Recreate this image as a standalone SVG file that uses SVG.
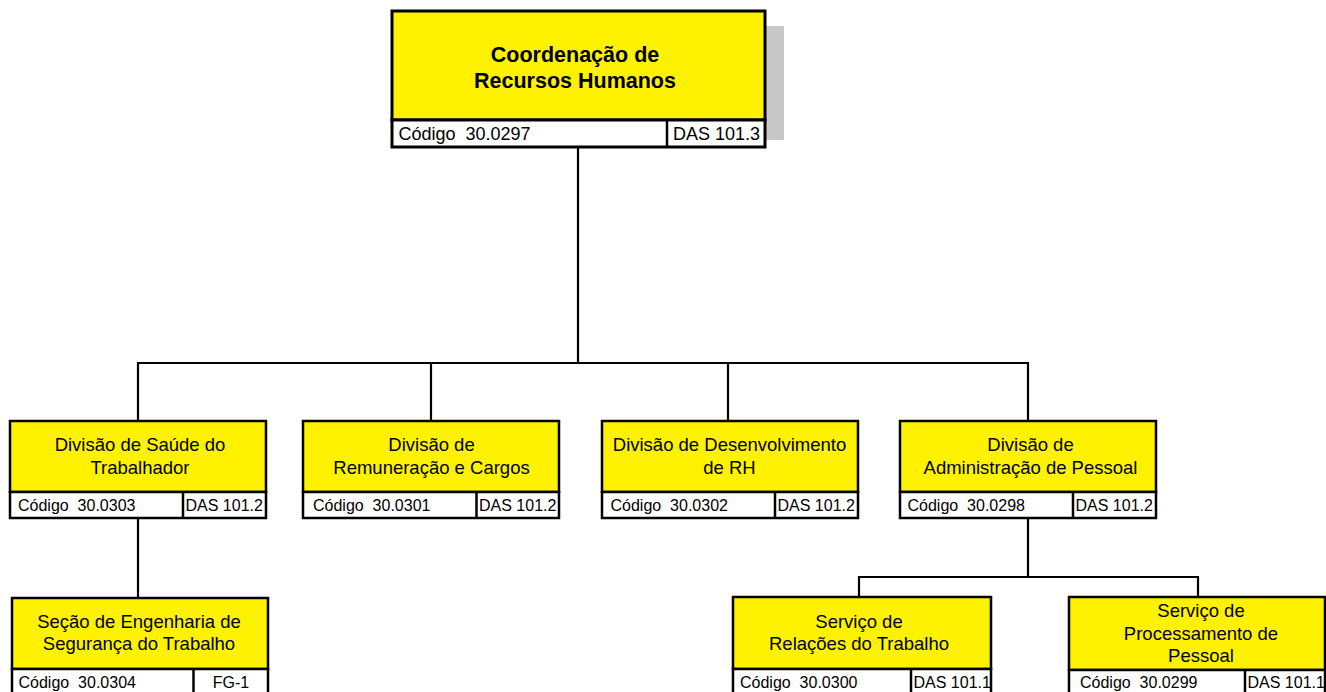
<svg xmlns="http://www.w3.org/2000/svg" width="1326" height="692" viewBox="0 0 1326 692">
<style>
.t{fill:#FFF200;stroke:#000;stroke-width:2.5}
.c{fill:#fff;stroke:#000;stroke-width:2.5}
.d{stroke:#000;stroke-width:2.5}
.ln{fill:none;stroke:#000;stroke-width:2.2}
text{font-family:"Liberation Sans",Arial,sans-serif;fill:#000;white-space:pre}
.ti{font-size:18.5px;text-anchor:middle}
.cd{font-size:16px}
.big{font-size:21.5px;font-weight:bold;text-anchor:middle}
.cb{font-size:18px}
</style>
<rect width="1326" height="692" fill="#fff"/>
<g id="connectors">
<path class="ln" d="M578 147V363"/>
<path class="ln" d="M138 421V363H1028V421"/>
<path class="ln" d="M431 363V421"/>
<path class="ln" d="M728 363V421"/>
<path class="ln" d="M138 518V598"/>
<path class="ln" d="M1028 518V577"/>
<path class="ln" d="M859 597V577H1198V597"/>
</g>
<g id="coord-rh">
<rect x="765" y="26" width="19" height="114" fill="#c8c8c8"/>
<rect class="t" x="392" y="11" width="373" height="109" style="stroke-width:3"/>
<rect class="c" x="392" y="120" width="373" height="27" style="stroke-width:3"/>
<line class="d" x1="667" y1="120" x2="667" y2="147"/>
<text class="big" x="575" y="62">Coordenação de</text>
<text class="big" x="575" y="87.5">Recursos Humanos</text>
<text class="cb" x="398.5" y="139.5" xml:space="preserve">Código  30.0297</text>
<text class="cb" x="673" y="139.5">DAS 101.3</text>
</g>
<g id="div-saude">
<rect class="t" x="10" y="421" width="256" height="71"/>
<rect class="c" x="10" y="492" width="256" height="26"/>
<line class="d" x1="183" y1="492" x2="183" y2="518"/>
<text class="ti" x="140" y="451">Divisão de Saúde do</text>
<text class="ti" x="140" y="474">Trabalhador</text>
<text class="cd" x="18" y="510.5" xml:space="preserve">Código  30.0303</text>
<text class="cd" x="185.5" y="510.5">DAS 101.2</text>
</g>
<g id="div-remuneracao">
<rect class="t" x="303" y="421" width="256" height="71"/>
<rect class="c" x="303" y="492" width="256" height="26"/>
<line class="d" x1="476.5" y1="492" x2="476.5" y2="518"/>
<text class="ti" x="431.5" y="451">Divisão de</text>
<text class="ti" x="431.5" y="474">Remuneração e Cargos</text>
<text class="cd" x="313" y="510.5" xml:space="preserve">Código  30.0301</text>
<text class="cd" x="479" y="510.5">DAS 101.2</text>
</g>
<g id="div-desenvolvimento">
<rect class="t" x="602" y="421" width="256" height="71"/>
<rect class="c" x="602" y="492" width="256" height="26"/>
<line class="d" x1="775" y1="492" x2="775" y2="518"/>
<text class="ti" x="729.5" y="451">Divisão de Desenvolvimento</text>
<text class="ti" x="729.5" y="474">de RH</text>
<text class="cd" x="610.5" y="510.5" xml:space="preserve">Código  30.0302</text>
<text class="cd" x="777.5" y="510.5">DAS 101.2</text>
</g>
<g id="div-administracao">
<rect class="t" x="900" y="421" width="256" height="71"/>
<rect class="c" x="900" y="492" width="256" height="26"/>
<line class="d" x1="1073" y1="492" x2="1073" y2="518"/>
<text class="ti" x="1030.5" y="451">Divisão de</text>
<text class="ti" x="1030.5" y="474">Administração de Pessoal</text>
<text class="cd" x="907.5" y="510.5" xml:space="preserve">Código  30.0298</text>
<text class="cd" x="1075.5" y="510.5">DAS 101.2</text>
</g>
<g id="secao-engenharia">
<rect class="t" x="12" y="598" width="256" height="71"/>
<rect class="c" x="12" y="669" width="256" height="28"/>
<line class="d" x1="193.5" y1="669" x2="193.5" y2="697"/>
<text class="ti" x="139" y="627.5">Seção de Engenharia de</text>
<text class="ti" x="139" y="649.5">Segurança do Trabalho</text>
<text class="cd" x="18.5" y="688" xml:space="preserve">Código  30.0304</text>
<text class="cd" x="231" y="688" text-anchor="middle">FG-1</text>
</g>
<g id="servico-relacoes">
<rect class="t" x="733" y="597" width="258" height="72"/>
<rect class="c" x="733" y="669" width="258" height="28"/>
<line class="d" x1="911" y1="669" x2="911" y2="697"/>
<text class="ti" x="859" y="627.5">Serviço de</text>
<text class="ti" x="859" y="649.5">Relações do Trabalho</text>
<text class="cd" x="740" y="688" xml:space="preserve">Código  30.0300</text>
<text class="cd" x="913.5" y="688">DAS 101.1</text>
</g>
<g id="servico-processamento">
<rect class="t" x="1069" y="597" width="256" height="73"/>
<rect class="c" x="1069" y="670" width="256" height="27"/>
<line class="d" x1="1245" y1="670" x2="1245" y2="697"/>
<text class="ti" x="1201" y="617">Serviço de</text>
<text class="ti" x="1201" y="639.5">Processamento de</text>
<text class="ti" x="1201" y="662">Pessoal</text>
<text class="cd" x="1080" y="688" xml:space="preserve">Código  30.0299</text>
<text class="cd" x="1247.5" y="688">DAS 101.1</text>
</g>
</svg>
